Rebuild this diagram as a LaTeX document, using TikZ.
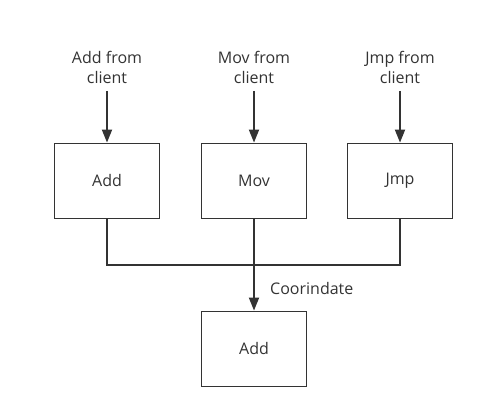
\documentclass[tikz,border=0pt]{standalone}
\usepackage{fontspec}
\setmainfont{Open Sans}
\usetikzlibrary{arrows.meta}
\definecolor{ink}{HTML}{333333}
\begin{document}
\begin{tikzpicture}[x=1pt,y=-1pt,
  box/.style={draw=ink,line width=1.8pt,minimum width=105pt,minimum height=75pt,inner sep=0pt,text=ink,font=\fontsize{16}{19}\selectfont},
  lbl/.style={text=ink,align=center,font=\fontsize{16}{20}\selectfont,inner sep=0pt},
  wire/.style={draw=ink,line width=1.8pt},
  arr/.style={wire,-{Triangle[length=13pt,width=10pt]}}]
\useasboundingbox (0,0) rectangle (490,419);
\node[box] (add) at (107,181) {Add};
\node[box] (mov) at (254,181) {Mov};
\node[box] (jmp) at (400,181) {Jmp};
\node[box] (out) at (254,349) {Add};
\node[lbl] (tadd) at (107,67) {Add from\\client};
\node[lbl] (tmov) at (254,67) {Mov from\\client};
\node[lbl] (tjmp) at (400,67) {Jmp from\\client};
\coordinate (sa) at (107,91);
\coordinate (sm) at (254,91);
\coordinate (sj) at (400,91);
\draw[arr] (sa) -- (add.north);
\draw[arr] (sm) -- (mov.north);
\draw[arr] (sj) -- (jmp.north);
\draw[wire] (add.south) |- (254,265) -| (jmp.south);
\draw[arr] (mov.south) -- (out.north);
\node[lbl,anchor=west] (coord) at (270,289) {Coorindate};
\end{tikzpicture}
\end{document}
